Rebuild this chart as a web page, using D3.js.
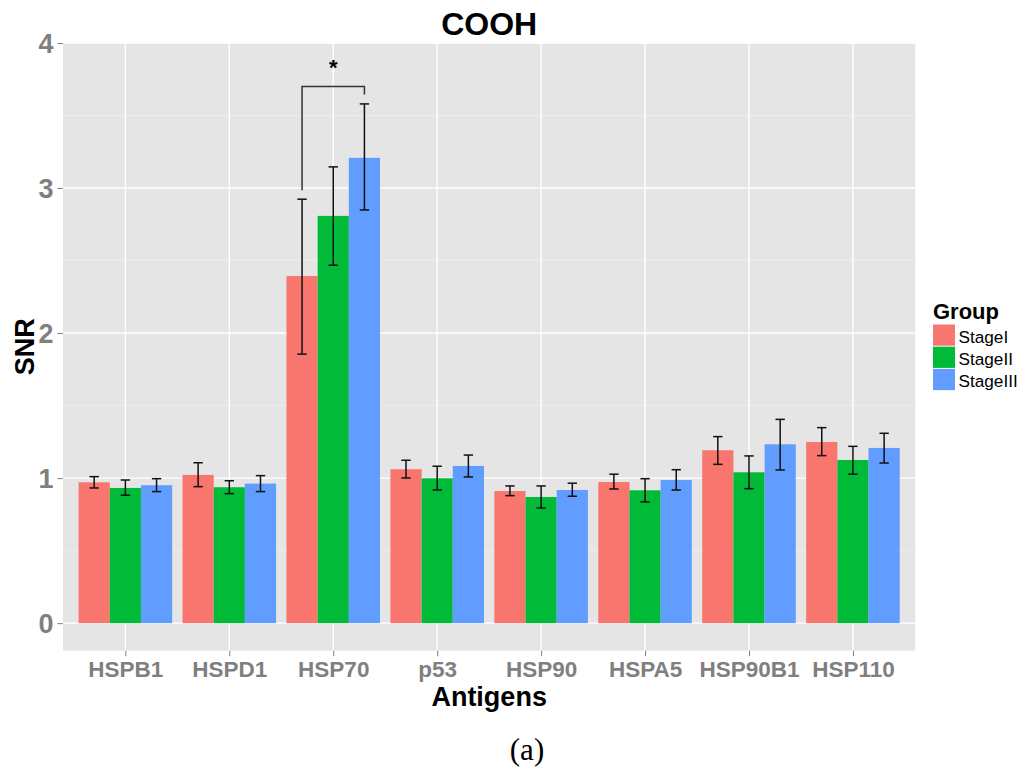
<!DOCTYPE html>
<html><head><meta charset="utf-8">
<script src="https://cdn.jsdelivr.net/npm/d3@7"></script>
<style>body{margin:0;background:#fff}svg{display:block}</style>
</head><body>
<svg id="chart" width="1022" height="771"></svg>
<script>
const categories = ["HSPB1","HSPD1","HSP70","p53","HSP90","HSPA5","HSP90B1","HSP110"];
const groups = ["StageI","StageII","StageIII"];
const colors = ["#F8766D","#00BA38","#619CFF"];
const stageI   = [0.971,1.022,2.393,1.061,0.911,0.973,1.192,1.249];
const stageII  = [0.932,0.937,2.808,0.999,0.870,0.916,1.040,1.125];
const stageIII = [0.951,0.962,3.208,1.084,0.918,0.987,1.233,1.208];
const stageILow   = [0.932,0.941,1.855,1.001,0.879,0.925,1.095,1.155];
const stageIHigh  = [1.010,1.106,2.923,1.123,0.946,1.027,1.286,1.348];
const stageIILow  = [0.882,0.893,2.468,0.918,0.794,0.836,0.927,1.027];
const stageIIHigh = [0.987,0.982,3.146,1.082,0.946,0.996,1.153,1.219];
const stageIIILow = [0.907,0.907,2.849,1.008,0.875,0.918,1.056,1.104];
const stageIIIHigh= [0.996,1.017,3.580,1.159,0.965,1.058,1.405,1.309];
const yTicks = [0,1,2,3,4];
const yMinor = [0.5,1.5,2.5,3.5];
// significance bracket: HSP70, StageI vs StageIII
const bracketCategory = "HSP70";
const bracketTop = 3.70, bracketLeftEnd = 2.985, bracketRightEnd = 3.645;

const means = [stageI, stageII, stageIII];
const lows = [stageILow, stageIILow, stageIIILow];
const highs = [stageIHigh, stageIIHigh, stageIIIHigh];

const svg = d3.select("#chart");
const P = {l:63, r:915.3, t:43, b:650.7};
const font = "'Liberation Sans', Arial, Helvetica, sans-serif";

const x = d3.scalePoint().domain(categories).range([P.l, P.r]).padding(0.6);
const step = x.step();
const xg = d3.scaleBand().domain(groups).range([-0.45*step, 0.45*step]);
const y = d3.scaleLinear().domain([-0.19, 4.0]).range([P.b, P.t]);

svg.append("rect").attr("x",P.l).attr("y",P.t).attr("width",P.r-P.l).attr("height",P.b-P.t).attr("fill","#E5E5E5");
const grid = svg.append("g");
grid.selectAll(".mn").data(yMinor).join("line").attr("x1",P.l).attr("x2",P.r)
  .attr("y1",d=>y(d)).attr("y2",d=>y(d)).attr("stroke","#F2F2F2").attr("stroke-width",0.7);
grid.selectAll(".mj").data(yTicks).join("line").attr("x1",P.l).attr("x2",P.r)
  .attr("y1",d=>y(d)).attr("y2",d=>y(d)).attr("stroke","#fff").attr("stroke-width",1.4);
grid.selectAll(".vx").data(categories).join("line").attr("y1",P.t).attr("y2",P.b)
  .attr("x1",d=>x(d)).attr("x2",d=>x(d)).attr("stroke","#fff").attr("stroke-width",1.4);

// bars
const barData = [];
categories.forEach((c,i)=>groups.forEach((g,j)=>barData.push({c,g,j,v:means[j][i],lo:lows[j][i],hi:highs[j][i]})));
svg.append("g").selectAll("rect").data(barData).join("rect")
  .attr("x",d=>x(d.c)+xg(d.g)).attr("width",xg.bandwidth())
  .attr("y",d=>y(d.v)).attr("height",d=>y(0)-y(d.v)).attr("fill",d=>colors[d.j]);

// error bars
const eb = svg.append("g").attr("stroke","#111").attr("stroke-width",1.5).attr("fill","none");
const capW = xg.bandwidth()*0.3;
barData.forEach(d=>{
  const cx = x(d.c)+xg(d.g)+xg.bandwidth()/2;
  eb.append("line").attr("x1",cx).attr("x2",cx).attr("y1",y(d.lo)).attr("y2",y(d.hi));
  eb.append("line").attr("x1",cx-capW/2).attr("x2",cx+capW/2).attr("y1",y(d.lo)).attr("y2",y(d.lo));
  eb.append("line").attr("x1",cx-capW/2).attr("x2",cx+capW/2).attr("y1",y(d.hi)).attr("y2",y(d.hi));
});

// bracket
const bxL = x(bracketCategory)+xg("StageI")+xg.bandwidth()/2;
const bxR = x(bracketCategory)+xg("StageIII")+xg.bandwidth()/2;
svg.append("path").attr("fill","none").attr("stroke","#333").attr("stroke-width",1.5)
  .attr("d",`M${bxL},${y(bracketLeftEnd)}V${y(bracketTop)}H${bxR}V${y(bracketRightEnd)}`);
svg.append("text").attr("x",(bxL+bxR)/2).attr("y",y(bracketTop)-12).attr("text-anchor","middle")
  .attr("font-family",font).attr("font-weight","bold").attr("font-size",22).attr("fill","#000").text("*");

// axes
const yAxis = svg.append("g").attr("transform",`translate(${P.l},0)`)
  .call(d3.axisLeft(y).tickValues(yTicks).tickSize(5.5).tickPadding(4).tickFormat(d3.format("d")));
yAxis.select(".domain").remove();
yAxis.selectAll(".tick line").attr("stroke","#7F7F7F");
yAxis.selectAll(".tick text").attr("font-family",font).attr("font-weight","bold").attr("font-size",27)
  .attr("fill","#7F7F7F").attr("dy","0.36em");
const xAxis = svg.append("g").attr("transform",`translate(0,${P.b})`)
  .call(d3.axisBottom(x).tickSize(5.5).tickPadding(4));
xAxis.select(".domain").remove();
xAxis.selectAll(".tick line").attr("stroke","#7F7F7F");
xAxis.selectAll(".tick text").attr("font-family",font).attr("font-weight","bold").attr("font-size",22.5)
  .attr("fill","#7F7F7F").attr("dy",null).attr("y",26);

// titles
svg.append("text").attr("x",(P.l+P.r)/2).attr("y",35).attr("text-anchor","middle")
  .attr("font-family",font).attr("font-weight","bold").attr("font-size",32).text("COOH");
svg.append("text").attr("x",(P.l+P.r)/2).attr("y",706).attr("text-anchor","middle")
  .attr("font-family",font).attr("font-weight","bold").attr("font-size",27).text("Antigens");
svg.append("text").attr("transform",`translate(34,${(P.t+P.b)/2}) rotate(-90)`).attr("text-anchor","middle")
  .attr("font-family",font).attr("font-weight","bold").attr("font-size",27).text("SNR");
svg.append("text").attr("x",527).attr("y",760).attr("text-anchor","middle")
  .attr("font-family","'Liberation Serif','Times New Roman',serif").attr("font-size",31).text("(a)");

// legend
const lg = svg.append("g");
lg.append("text").attr("x",933).attr("y",318.5).attr("font-family",font).attr("font-weight","bold")
  .attr("font-size",22).text("Group");
groups.forEach((g,i)=>{
  lg.append("rect").attr("x",933).attr("y",324.5+i*22.2).attr("width",22).attr("height",21.2).attr("fill",colors[i]);
  lg.append("text").attr("x",958.5).attr("y",343+i*22.2).attr("font-family",font).attr("font-size",17.2).text(g);
});
</script>
</body></html>
